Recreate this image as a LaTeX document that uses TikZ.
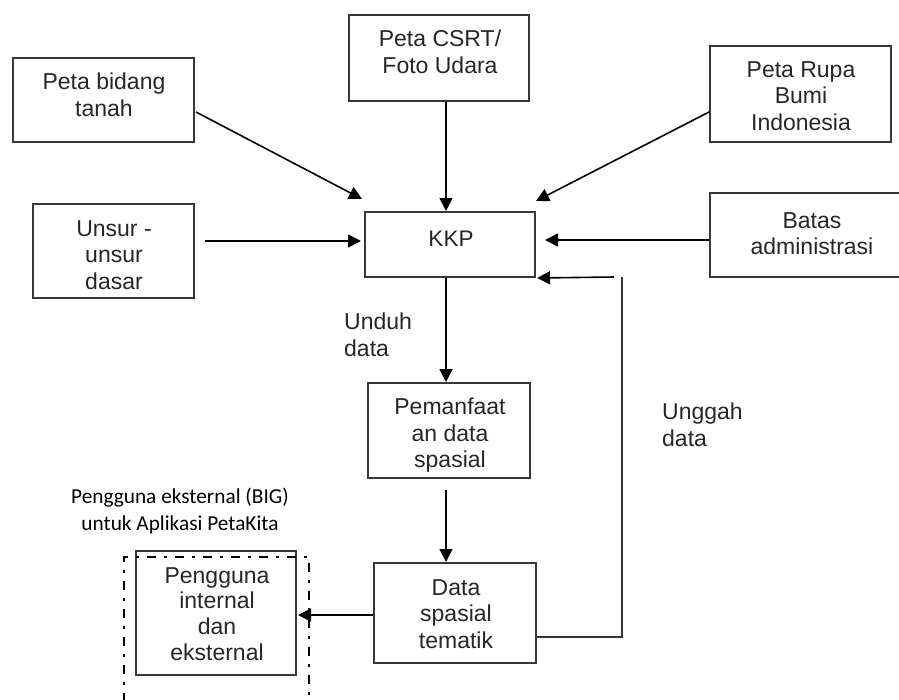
\documentclass[tikz,border=0pt]{standalone}
\usepackage{fontspec}
\setmainfont{Liberation Sans}
\newfontfamily\calib{Carlito}
\usetikzlibrary{arrows.meta,calc}
\begin{document}
\begin{tikzpicture}[x=1pt,y=-1pt,
 box/.style={draw=black!78,line width=2pt,rectangle,inner sep=0pt},
 txt/.style={anchor=north,inner sep=0pt,align=center,text=black!85,font=\fontsize{23}{26.5}\selectfont},
 lbl/.style={anchor=north west,inner sep=0pt,align=left,text=black!85,font=\fontsize{23}{26.5}\selectfont},
 arr/.style={draw=black,line width=1.6pt,-{Triangle[length=13pt,width=13pt]}},
 ln/.style={draw=black!80,line width=1.6pt},
 dashdot/.style={draw=black,line width=2.6pt,dash pattern=on 9pt off 8pt on 3pt off 8pt,rectangle,inner sep=0pt}]
\useasboundingbox (0,0) rectangle (899,699);
% boxes
\node[box,minimum width=181pt,minimum height=84pt] (pbt) at (103.5,100) {};
\node[box,minimum width=180pt,minimum height=86pt] (csrt) at (439,58) {};
\node[box,minimum width=181pt,minimum height=96pt] (prb) at (800.5,94) {};
\node[box,minimum width=161pt,minimum height=94pt] (uns) at (113.5,251) {};
\node[box,minimum width=170pt,minimum height=65pt] (kkp) at (450,244.5) {};
\node[box,minimum width=205pt,minimum height=84pt] (bat) at (812.5,235) {};
\node[box,minimum width=162pt,minimum height=95pt] (pem) at (449,430.5) {};
\node[box,minimum width=162pt,minimum height=100pt] (dst) at (455,613) {};
\node[box,minimum width=160pt,minimum height=124pt] (pig) at (216,613) {};
\node[dashdot,minimum width=185pt,minimum height=166pt] (ext) at (216.5,640) {};
% texts
\node[txt] (tpbt) at (104,73) {Peta bidang\\tanah};
\node[txt] (tcsrt) at (440,30) {Peta CSRT/\\Foto Udara};
\node[txt] (tprb) at (801,61) {Peta Rupa\\Bumi\\Indonesia};
\node[txt] (tuns) at (114,220) {Unsur -\\unsur\\dasar};
\node[txt,font=\fontsize{22.5}{25}\selectfont] (tkkp) at (451,231) {KKP};
\node[txt] (tbat) at (812,212) {Batas\\administrasi};
\node[txt] (tpem) at (450,398) {Pemanfaat\\an data\\spasial};
\node[txt] (tdst) at (456,579) {Data\\spasial\\tematik};
\node[txt,font=\fontsize{23}{25.7}\selectfont] (tpig) at (217,567) {Pengguna\\internal\\dan\\eksternal};
\node[lbl] (unduh) at (344,313) {Unduh\\data};
\node[lbl] (unggah) at (662,403) {Unggah\\data};
\node[txt,text=black,font=\calib\fontsize{21.3}{26.7}\selectfont] (extlbl) at (180,488) {Pengguna eksternal (BIG)\\untuk Aplikasi PetaKita};
% connectors
\draw[arr] ($(pbt.east)+(1,12)$) -- ($(kkp.north west)+(-2,-12)$);
\draw[arr] ([xshift=-4pt]kkp.north |- csrt.south) -- ([xshift=-4pt]kkp.north);
\draw[arr] ($(prb.west)+(0,18)$) -- ($(kkp.north east)+(0,-10)$);
\draw[arr] ($(uns.east)+(10,-10)$) -- ($(kkp.west)+(-3,-3.5)$);
\draw[arr] ($(bat.west)+(0,5)$) -- ($(kkp.east)+(9,-4.5)$);
\draw[arr] ([xshift=-4pt]kkp.south) -- ([xshift=-3pt]pem.north);
\draw[arr] ($(pem.south)+(-3,11)$) -- ($(dst.north)+(-9,0)$);
\draw[arr] ($(dst.west)+(0,2)$) -- ($(pig.east)+(1,2)$);
\coordinate (fbTop) at (622,277);
\coordinate (fbIn) at (614,277);
\draw[ln] ($(dst.east)+(0,24)$) -| (fbTop);
\draw[arr] (fbIn) -- ($(kkp.south east)+(1,0)$);
\end{tikzpicture}
\end{document}
